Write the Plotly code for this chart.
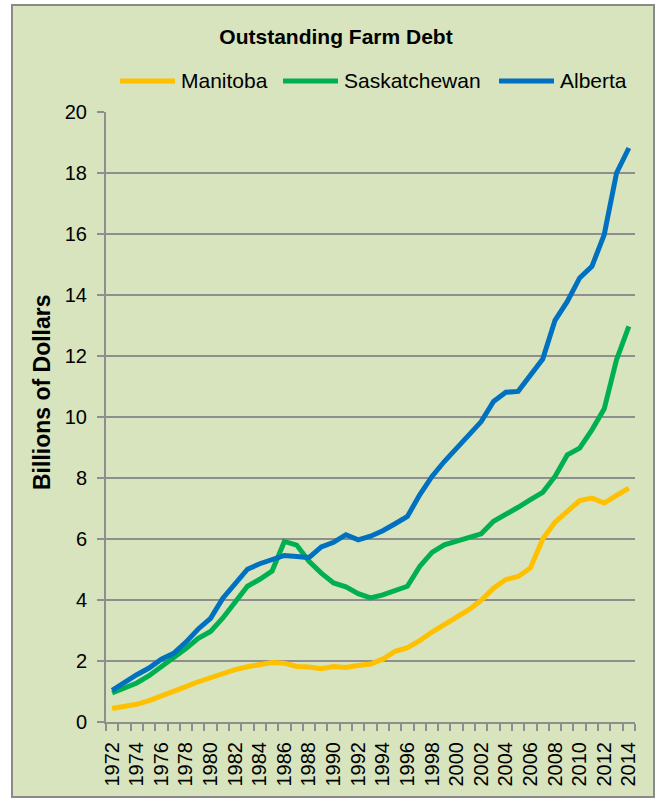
import plotly.graph_objects as go

# Outstanding farm debt by province, billions of dollars
years = list(range(1972, 2015))

manitoba = [0.44, 0.50, 0.58, 0.70, 0.84, 0.99, 1.16, 1.32, 1.46, 1.59,
            1.72, 1.81, 1.89, 1.95, 1.93, 1.82, 1.80, 1.75, 1.82, 1.79,
            1.85, 1.90, 2.06, 2.32, 2.44, 2.67, 2.95, 3.20, 3.43, 3.68,
            3.99, 4.39, 4.67, 4.77, 5.05, 6.00, 6.55, 6.91, 7.26, 7.34,
            7.18, 7.43, 7.67]

saskatchewan = [0.95, 1.12, 1.28, 1.52, 1.80, 2.08, 2.41, 2.74, 2.97, 3.41,
                3.91, 4.45, 4.68, 4.95, 5.92, 5.80, 5.27, 4.88, 4.56, 4.43,
                4.21, 4.07, 4.17, 4.30, 4.45, 5.10, 5.56, 5.81, 5.92, 6.06,
                6.17, 6.58, 6.79, 7.04, 7.29, 7.53, 8.05, 8.76, 8.98, 9.58,
                10.27, 11.88, 12.97]

alberta = [1.04, 1.30, 1.55, 1.77, 2.06, 2.25, 2.62, 3.05, 3.40, 4.06,
           4.52, 5.01, 5.19, 5.34, 5.46, 5.43, 5.39, 5.74, 5.89, 6.14,
           5.97, 6.09, 6.27, 6.50, 6.74, 7.45, 8.05, 8.54, 8.98, 9.42,
           9.85, 10.51, 10.81, 10.84, 11.36, 11.90, 13.17, 13.79, 14.56, 14.94,
           15.98, 18.00, 18.82]

series_names = ["Manitoba", "Saskatchewan", "Alberta"]
series_values = [manitoba, saskatchewan, alberta]
series_colors = ["#FFC000", "#00B050", "#0070C0"]

year_labels = years[::2]
y_ticks = list(range(0, 21, 2))

W, H = 661, 801
ML, MR, MT, MB = 106, 26, 112, 79
PW = W - ML - MR
PH = H - MT - MB

FONT = "Liberation Sans, Arial, sans-serif"
GRAY = "#8E8E8E"
BG = "#D7E4BD"


def px_x(px):
    return (px - ML) / PW


def px_y(py):
    return (H - MB - py) / PH


fig = go.Figure()
for name, vals, col in zip(series_names, series_values, series_colors):
    fig.add_trace(go.Scatter(
        x=years, y=vals, name=name, mode="lines",
        line=dict(color=col, width=5),
        showlegend=False,
    ))

shapes = [
    # chart frame with the light green fill
    dict(type="rect", xref="paper", yref="paper",
         x0=px_x(12), x1=px_x(654), y0=px_y(797), y1=px_y(5),
         line=dict(color="#8A8A8A", width=2), fillcolor=BG, layer="below"),
]
annotations = []

# legend row along the top
legend_line_x = [120, 283, 499]
legend_y = 81
for name, col, lx in zip(series_names, series_colors, legend_line_x):
    shapes.append(dict(type="line", xref="paper", yref="paper",
                       x0=px_x(lx), x1=px_x(lx + 55),
                       y0=px_y(legend_y), y1=px_y(legend_y),
                       line=dict(color=col, width=5), layer="above"))
    annotations.append(dict(xref="paper", yref="paper",
                            x=px_x(lx + 59), y=px_y(legend_y),
                            xanchor="left", yanchor="middle", showarrow=False,
                            text=name, font=dict(family=FONT, size=21, color="black")))

# vertical axis title
annotations.append(dict(xref="paper", yref="paper", x=px_x(42), y=px_y(392),
                        xanchor="center", yanchor="middle", showarrow=False,
                        textangle=-90, text="<b>Billions of Dollars</b>",
                        font=dict(family=FONT, size=23, color="black")))

fig.update_layout(
    width=W, height=H,
    margin=dict(l=ML, r=MR, t=MT, b=MB, pad=0),
    paper_bgcolor="white",
    plot_bgcolor="rgba(0,0,0,0)",
    title=dict(text="<b>Outstanding Farm Debt</b>", x=336 / W, xanchor="center",
               y=1 - 37 / H, yanchor="middle", xref="container", yref="container",
               font=dict(family=FONT, size=21, color="black")),
    font=dict(family=FONT, size=20, color="black"),
    shapes=shapes,
    annotations=annotations,
    showlegend=False,
)

fig.update_xaxes(
    range=[1971.5, 2014.5],
    tickmode="array", tickvals=year_labels, ticktext=[str(y) for y in year_labels],
    tickangle=-90, ticks="", ticklabelstandoff=10,
    tickfont=dict(family=FONT, size=20, color="black"),
    showline=True, linecolor=GRAY, linewidth=2,
    showgrid=False, zeroline=False,
    minor=dict(tickmode="array", tickvals=[y - 0.5 for y in years] + [years[-1] + 0.5],
               ticks="outside", ticklen=7, tickwidth=2, tickcolor=GRAY, showgrid=False),
)

fig.update_yaxes(
    range=[0, 20],
    tickmode="array", tickvals=y_ticks,
    ticks="outside", ticklen=7, tickwidth=2, tickcolor=GRAY,
    ticklabelstandoff=6,
    tickfont=dict(family=FONT, size=20, color="black"),
    showline=True, linecolor=GRAY, linewidth=2,
    showgrid=True, gridcolor=GRAY, gridwidth=2,
    zeroline=False,
)

fig.write_html("out.html")
